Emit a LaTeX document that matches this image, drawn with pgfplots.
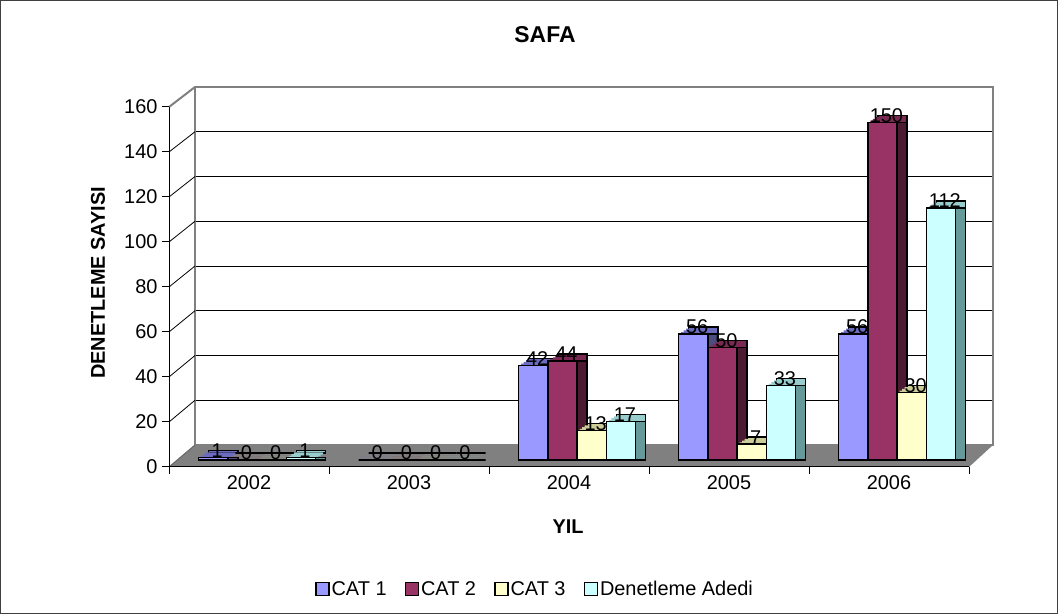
\documentclass[border=0pt]{standalone}
\usepackage{pgfplots}
\usepackage{pgfplotstable}
\pgfplotsset{compat=1.18}
\usepackage{fontspec}
\setmainfont{Liberation Sans}

% front / top / side shades of the four series
\definecolor{oneF}{HTML}{9999FF}
\definecolor{oneT}{HTML}{6B6BC0}
\definecolor{oneS}{HTML}{4D4D80}
\definecolor{twoF}{HTML}{993366}
\definecolor{twoT}{HTML}{7A2952}
\definecolor{twoS}{HTML}{4D1A33}
\definecolor{thrF}{HTML}{FFFFCC}
\definecolor{thrT}{HTML}{CCCC99}
\definecolor{thrS}{HTML}{808066}
\definecolor{fouF}{HTML}{CCFFFF}
\definecolor{fouT}{HTML}{99CCCC}
\definecolor{fouS}{HTML}{669999}

\pgfplotstableread{
yil cat1 cat2 cat3 den
0   1    0    0    1
1   0    0    0    0
2   42   44   13   17
3   56   50   7    33
4   56   150  30   112
}\safa

\newcommand\fs{\fontsize{20}{24}\selectfont}

\pgfplotsset{
  /pgf/number format/assume math mode=true,
  front/.style 2 args={ybar, bar shift=#1, fill=#2, draw=black, line width=1.5bp,
    nodes near coords,
    every node near coord/.append style={anchor=center, yshift=7bp,
      xshift=#1, xshift=4bp, font=\fs, text=black, line width=0pt}},
  top/.style 2 args={ybar, bar shift=#1, fill=#2, draw=black, line width=1.5bp,
    yshift=7bp, forget plot},
  step/.style n args={3}{ybar, bar shift=#1, yshift=#2, fill=#3, draw=none,
    forget plot},
  side/.style 2 args={ybar, bar shift=#1, fill=#2, draw=black, line width=1.5bp,
    forget plot},
}

% one series of 3-D looking bars: #1 front shift, #2 shift + 2.5, #3 + 5,
% #4 + 7.5, #5 + 10 (bp), #6 column, #7 top, #8 side, #9 front colour
\newcommand\cube[9]{%
  \addplot[top={#5bp}{#7}] table[x=yil, y=#6] {\safa};
  \addplot[step={#4bp}{5.25bp}{#7}] table[x=yil, y=#6] {\safa};
  \addplot[step={#3bp}{3.5bp}{#7}] table[x=yil, y=#6] {\safa};
  \addplot[step={#2bp}{1.75bp}{#7}] table[x=yil, y=#6] {\safa};
  \addplot[side={#5bp}{#8}] table[x=yil, y=#6] {\safa};
  \addplot[front={#1bp}{#9}] table[x=yil, y=#6] {\safa};
}

\begin{document}
\begin{tikzpicture}
\useasboundingbox (0,0) rectangle (1058bp,614bp);
\draw[black!75, line width=1bp] (0.5bp,0.5bp) rectangle (1057.5bp,613.5bp);

% back wall with grid
\begin{axis}[at={(195bp,169bp)}, anchor=south west, scale only axis,
  width=798bp, height=358bp, xmin=-0.5, xmax=4.5, ymin=0, ymax=160,
  xtick=\empty, ytick={20,40,...,140}, yticklabels={}, major tick length=0pt,
  ymajorgrids, grid style={black, line width=0.8bp},
  axis line style={draw=gray, line width=2bp}]
\end{axis}

% floor and left wall
\fill[gray] (169bp,147bp) -- (969bp,147bp) -- (993bp,169bp) -- (195bp,169bp) -- cycle;
\draw[black!60, line width=1bp] (169bp,147bp) -- (195bp,169bp);
\foreach \v in {20,40,...,140}
  \draw[black, line width=0.8bp] (169bp,147bp+2.25bp*\v) -- (195bp,169bp+2.2375bp*\v);
\draw[gray, line width=2bp] (169bp,507bp) -- (195bp,527bp);

% bars
\begin{axis}[at={(177bp,154bp)}, anchor=south west, scale only axis,
  width=800bp, height=360bp, xmin=-0.5, xmax=4.5, ymin=0, ymax=160,
  hide axis, clip=false, bar width=29.25bp,
  legend style={at={(0.4475,-0.358)}, anchor=center, draw=none, fill=none,
    legend columns=-1, font=\fs, inner sep=0pt,
    /tikz/every even column/.append style={column sep=16bp}},
  legend image code/.code={\draw[#1, draw=black, line width=1.5bp]
    (0bp,-6.5bp) rectangle (13bp,6.5bp);}]
\cube{-43.875}{-41.375}{-38.875}{-36.375}{-33.875}{cat1}{oneT}{oneS}{oneF}
\addlegendentry{CAT 1}
\cube{-14.625}{-12.125}{-9.625}{-7.125}{-4.625}{cat2}{twoT}{twoS}{twoF}
\addlegendentry{CAT 2}
\cube{14.625}{17.125}{19.625}{22.125}{24.625}{cat3}{thrT}{thrS}{thrF}
\addlegendentry{CAT 3}
\cube{43.875}{46.375}{48.875}{51.375}{53.875}{den}{fouT}{fouS}{fouF}
\addlegendentry{Denetleme Adedi}
\end{axis}

% front axes with ticks
\begin{axis}[at={(169bp,147bp)}, anchor=south west, scale only axis,
  width=800bp, height=360bp, xmin=-0.5, xmax=4.5, ymin=0, ymax=160,
  axis x line*=bottom, axis y line*=left,
  axis line style={black, line width=1bp},
  tick align=outside, major tick length=7bp,
  tick style={black, line width=1bp},
  ytick={0,20,...,160},
  xtick={-0.5,0.5,...,4.5}, xticklabels={},
  extra x ticks={0,1,2,3,4},
  extra x tick labels={2002,2003,2004,2005,2006},
  extra x tick style={major tick length=0pt},
  tick label style={font=\fs},
  xticklabel style={yshift=-5bp},
  yticklabel style={xshift=-1bp}]
\end{axis}

\node[font=\bfseries\fontsize{23}{26}\selectfont] at (545bp,579bp) {SAFA};
\node[font=\bfseries\fs] at (568bp,87bp) {YIL};
\node[font=\bfseries\fs, rotate=90] at (98bp,331bp) {DENETLEME SAYISI};
\end{tikzpicture}
\end{document}
